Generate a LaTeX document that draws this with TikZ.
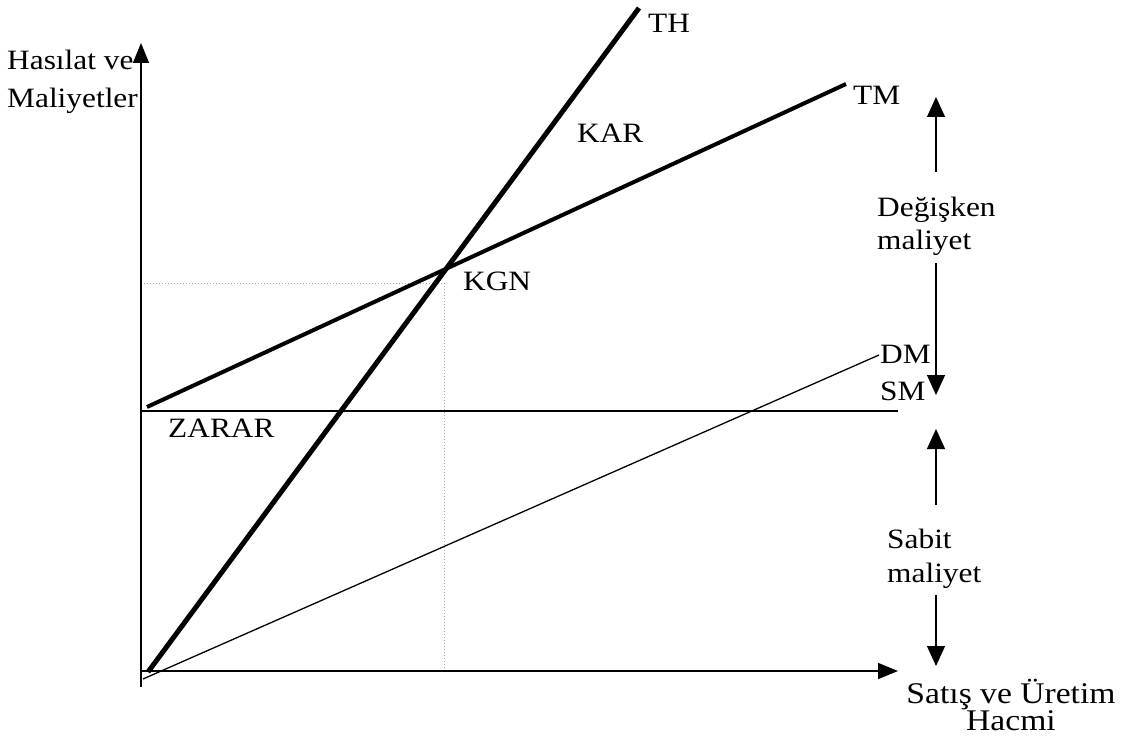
\documentclass[tikz,border=0pt]{standalone}
\usepackage{fontspec}
\usepackage{graphicx}
\setmainfont{Liberation Serif}
\usetikzlibrary{arrows.meta}
\newcommand\sx[1]{\scalebox{1.12}[1]{#1}}
\tikzset{
  lbl/.style={font=\fontsize{28}{30}\selectfont, anchor=base west, inner sep=0pt},
  biglbl/.style={font=\fontsize{30}{26}\selectfont, align=center, anchor=south, inner sep=0pt},
  axis/.style={line width=1.5pt, -{Triangle[width=16pt,length=20pt]}},
  thinline/.style={line width=1.3pt},
  thickline/.style={line width=5pt},
  medline/.style={line width=4pt},
  dotline/.style={line width=0.6pt, gray!70, dash pattern=on 1.2pt off 1.8pt},
  sidearrow/.style={line width=1.3pt, -{Triangle[width=18pt,length=20pt]}}
}
\begin{document}
\begin{tikzpicture}[x=1pt,y=-1pt]
\useasboundingbox[fill=white] (0,0) rectangle (1124,738);
% coordinates
\coordinate (ybot) at (141,687);
\coordinate (ytop) at (141,43);
\coordinate (xl) at (141,671);
\coordinate (xr) at (898,671);
\coordinate (th0) at (148,672);
\coordinate (th1) at (639,8);
\coordinate (tm0) at (147,407);
\coordinate (tm1) at (846,84);
\coordinate (dm0) at (143,679);
\coordinate (dm1) at (879,355);
\coordinate (sm0) at (141,411);
\coordinate (sm1) at (898,411);
\coordinate (d0) at (141,283);
\coordinate (d1) at (444,283);
\coordinate (d2) at (444,671);
\coordinate (a1s) at (936,172);
\coordinate (a1e) at (936,97);
\coordinate (a2s) at (936,263);
\coordinate (a2e) at (936,395);
\coordinate (a3s) at (936,505);
\coordinate (a3e) at (936,429);
\coordinate (a4s) at (936,595);
\coordinate (a4e) at (936,666);
% dotted guides
\draw[dotline] (d0) -- (d1) -- (d2);
% axes
\draw[axis] (ybot) -- (ytop);
\draw[axis] (xl) -- (xr);
% lines
\draw[thinline] (sm0) -- (sm1);
\draw[thinline] (dm0) -- (dm1);
\draw[medline] (tm0) -- (tm1);
\draw[thickline] (th0) -- (th1);
% side arrows
\draw[sidearrow] (a1s) -- (a1e);
\draw[sidearrow] (a2s) -- (a2e);
\draw[sidearrow] (a3s) -- (a3e);
\draw[sidearrow] (a4s) -- (a4e);
% labels
\node[lbl] (hv) at (7,70) {\sx{Hasılat ve}};
\node[lbl] (ml) at (7,108) {\sx{Maliyetler}};
\node[lbl] (kar) at (577,143) {\sx{KAR}};
\node[lbl] (kgn) at (463,290) {\sx{KGN}};
\node[lbl] (zarar) at (168,437) {\sx{ZARAR}};
\node[lbl] (th) at (648,33) {\sx{TH}};
\node[lbl] (tm) at (853,105) {\sx{TM}};
\node[lbl] (dm) at (880,363) {\sx{DM}};
\node[lbl] (sm) at (880,400) {\sx{SM}};
\node[lbl] (deg) at (877,217) {\sx{Değişken}};
\node[lbl] (dmal) at (877,249) {\sx{maliyet}};
\node[lbl] (sab) at (887,548) {\sx{Sabit}};
\node[lbl] (smal) at (887,582) {\sx{maliyet}};
\node[biglbl] (sat) at (1011,731) {\sx{Satış ve Üretim}\\\sx{Hacmi}};
\end{tikzpicture}
\end{document}
